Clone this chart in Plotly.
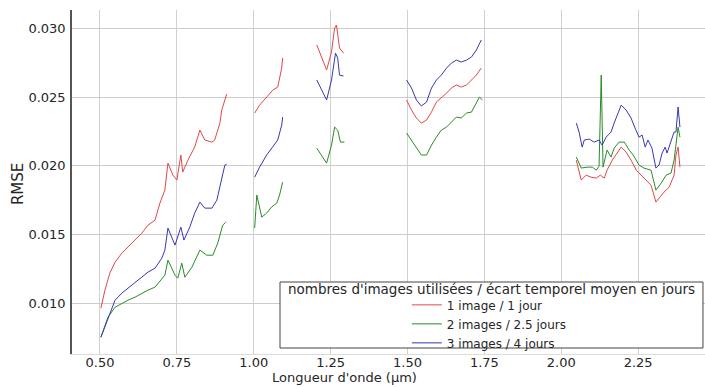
import plotly.graph_objects as go

# ---------------- data (wavelength in µm, RMSE) ----------------
red_x = [0.503, 0.516, 0.532, 0.549, 0.571, 0.591, 0.614, 0.636, 0.656, 0.679, 0.695, 0.711, 0.721, 0.737,
         0.750, 0.763, 0.769, 0.786, 0.808, 0.825, 0.841, 0.864, 0.873, 0.890, 0.896, 0.912, None,
         1.003, 1.019, 1.042, 1.062, 1.078, 1.091, 1.094, None,
         1.205, 1.221, 1.237, 1.253, 1.263, 1.269, 1.279, 1.292, None,
         1.497, 1.513, 1.529, 1.545, 1.562, 1.578, 1.594, 1.610, 1.627, 1.643, 1.659, 1.675, 1.692, 1.708,
         1.724, 1.740, None,
         2.049, 2.065, 2.081, 2.097, 2.114, 2.127, 2.140, 2.149, 2.166, 2.182, 2.195, 2.211, 2.227, 2.244,
         2.260, 2.276, 2.292, 2.308, 2.318, 2.334, 2.351, 2.367, 2.373, 2.380, 2.386]
red_y = [0.00966, 0.01097, 0.01220, 0.01300, 0.01366, 0.01410, 0.01461, 0.01511, 0.01569, 0.01606, 0.01730,
         0.01824, 0.02020, 0.01933, 0.01897, 0.02079, 0.01955, 0.02042, 0.02137, 0.02260, 0.02188, 0.02173,
         0.02188, 0.02311, 0.02406, 0.02522, None,
         0.02384, 0.02442, 0.02500, 0.02551, 0.02573, 0.02711, 0.02784, None,
         0.02879, 0.02791, 0.02697, 0.02828, 0.03002, 0.03024, 0.02857, 0.02820, None,
         0.02479, 0.02406, 0.02348, 0.02311, 0.02333, 0.02391, 0.02464, 0.02493, 0.02529, 0.02566, 0.02588,
         0.02573, 0.02588, 0.02624, 0.02660, 0.02711, None,
         0.02042, 0.01897, 0.01933, 0.01918, 0.01911, 0.01933, 0.01911, 0.01969, 0.02042, 0.02100, 0.02137,
         0.02100, 0.02042, 0.01969, 0.01933, 0.01897, 0.01860, 0.01737, 0.01766, 0.01809, 0.01846, 0.01933,
         0.02079, 0.02137, 0.01991]

green_x = [0.503, 0.526, 0.549, 0.571, 0.591, 0.614, 0.636, 0.656, 0.679, 0.701, 0.711, 0.721, 0.744, 0.753,
           0.766, 0.776, 0.799, 0.825, 0.847, 0.867, 0.883, 0.899, 0.909, None,
           1.003, 1.010, 1.026, 1.042, 1.058, 1.075, 1.084, 1.094, None,
           1.205, 1.221, 1.237, 1.253, 1.263, 1.273, 1.282, 1.295, None,
           1.497, 1.513, 1.529, 1.545, 1.562, 1.578, 1.594, 1.610, 1.627, 1.643, 1.659, 1.675, 1.692, 1.708,
           1.724, 1.734, 1.744, None,
           2.049, 2.065, 2.084, 2.101, 2.114, 2.123, 2.130, 2.136, 2.149, 2.162, 2.172, 2.188, 2.205, 2.221,
           2.234, 2.253, 2.269, 2.292, 2.308, 2.325, 2.341, 2.357, 2.367, 2.373, 2.380, 2.386]
green_y = [0.00755, 0.00901, 0.00973, 0.01002, 0.01024, 0.01046, 0.01075, 0.01097, 0.01119, 0.01184, 0.01206,
           0.01315, 0.01206, 0.01184, 0.01293, 0.01191, 0.01264, 0.01388, 0.01351, 0.01351, 0.01439, 0.01569,
           0.01591, None,
           0.01548, 0.01788, 0.01628, 0.01657, 0.01701, 0.01730, 0.01788, 0.01882, None,
           0.02129, 0.02079, 0.02020, 0.02151, 0.02282, 0.02260, 0.02173, 0.02173, None,
           0.02239, 0.02188, 0.02129, 0.02079, 0.02079, 0.02151, 0.02209, 0.02260, 0.02282, 0.02319, 0.02355,
           0.02348, 0.02384, 0.02391, 0.02464, 0.02500, 0.02479, None,
           0.02064, 0.01984, 0.01991, 0.01991, 0.01969, 0.01998, 0.02660, 0.01991, 0.02115, 0.02064, 0.02129,
           0.02173, 0.02173, 0.02115, 0.02079, 0.02006, 0.01984, 0.01969, 0.01824, 0.01875, 0.01933, 0.01948,
           0.02042, 0.02137, 0.02282, 0.02209]

blue_x = [0.503, 0.516, 0.532, 0.549, 0.571, 0.591, 0.614, 0.636, 0.656, 0.679, 0.701, 0.711, 0.721, 0.744,
          0.763, 0.773, 0.792, 0.808, 0.825, 0.841, 0.864, 0.880, 0.896, 0.906, 0.912, None,
          1.003, 1.019, 1.042, 1.062, 1.078, 1.091, 1.094, None,
          1.205, 1.221, 1.237, 1.253, 1.266, 1.273, 1.279, 1.292, None,
          1.497, 1.513, 1.529, 1.545, 1.562, 1.578, 1.594, 1.610, 1.627, 1.643, 1.659, 1.675, 1.692, 1.708,
          1.724, 1.740, None,
          2.049, 2.058, 2.068, 2.075, 2.091, 2.107, 2.123, 2.133, 2.146, 2.162, 2.172, 2.182, 2.195, 2.211,
          2.227, 2.240, 2.253, 2.263, 2.273, 2.282, 2.295, 2.308, 2.318, 2.328, 2.338, 2.344, 2.357, 2.367,
          2.373, 2.380, 2.386]
blue_y = [0.00755, 0.00828, 0.00930, 0.01024, 0.01075, 0.01111, 0.01148, 0.01191, 0.01228, 0.01257, 0.01329,
          0.01388, 0.01548, 0.01424, 0.01555, 0.01461, 0.01555, 0.01657, 0.01737, 0.01693, 0.01693, 0.01751,
          0.01918, 0.02006, 0.02013, None,
          0.01918, 0.01991, 0.02079, 0.02137, 0.02188, 0.02297, 0.02355, None,
          0.02624, 0.02551, 0.02479, 0.02624, 0.02820, 0.02784, 0.02660, 0.02653, None,
          0.02624, 0.02566, 0.02479, 0.02435, 0.02464, 0.02566, 0.02624, 0.02660, 0.02711, 0.02748, 0.02769,
          0.02755, 0.02769, 0.02791, 0.02842, 0.02915, None,
          0.02311, 0.02246, 0.02137, 0.02188, 0.02195, 0.02173, 0.02188, 0.02151, 0.02209, 0.02246, 0.02311,
          0.02369, 0.02442, 0.02406, 0.02348, 0.02275, 0.02209, 0.02224, 0.02137, 0.02188, 0.02129, 0.01984,
          0.02006, 0.02093, 0.02137, 0.02093, 0.02173, 0.02246, 0.02246, 0.02428, 0.02282]

series_names = ["1 image / 1 jour", "2 images / 2.5 jours", "3 images / 4 jours"]
series_colors = ["#e0484b", "#2a8a2a", "#3838b4"]

y_ticks = [0.010, 0.015, 0.020, 0.025, 0.030]
x_ticks = [0.50, 0.75, 1.00, 1.25, 1.50, 1.75, 2.00, 2.25]

legend_title = "nombres d'images utilisées / écart temporel moyen en jours"
x_title = "Longueur d'onde (µm)"
y_title = "RMSE"

FONT = "DejaVu Sans"

fig = go.Figure()
for xs, ys, name, col in zip([red_x, green_x, blue_x], [red_y, green_y, blue_y], series_names, series_colors):
    fig.add_trace(go.Scatter(x=xs, y=ys, mode="lines", name=name,
                             line=dict(color=col, width=1), connectgaps=False))

fig.update_layout(
    width=705, height=387,
    margin=dict(l=72, r=0, t=10, b=33),
    paper_bgcolor="white", plot_bgcolor="white",
    font=dict(family=FONT, color="#262626", size=13),
    showlegend=True,
    legend=dict(x=0.529, y=0.185, xanchor="left", yanchor="top",
                bgcolor="rgba(0,0,0,0)", borderwidth=0,
                font=dict(family=FONT, size=12, color="#262626"),
                tracegroupgap=0),
    xaxis=dict(range=[0.409, 2.4675], tickvals=x_ticks, ticktext=[f"{v:.2f}" for v in x_ticks],
               showgrid=True, gridcolor="#d0d0d0", gridwidth=1,
               showline=True, linecolor="#dcdcdc", linewidth=1,
               ticks="", ticklabelstandoff=-4, zeroline=False, tickfont=dict(size=13)),
    yaxis=dict(range=[0.00633, 0.03133], tickvals=y_ticks, ticktext=[f"{v:.3f}" for v in y_ticks],
               showgrid=True, gridcolor="#cccccc", gridwidth=1,
               showline=True, linecolor="#555555", linewidth=1.5,
               ticks="", ticklabelstandoff=2, zeroline=False, tickfont=dict(size=13)),
)

# legend frame (white box with border) and centered legend title
fig.add_shape(type="rect", xref="paper", yref="paper", x0=0.3286, x1=0.9968, y0=0.0174, y1=0.2093,
              line=dict(color="#444444", width=1), fillcolor="white", layer="above")
fig.add_annotation(text=legend_title, xref="paper", yref="paper", x=0.6627, y=0.189,
                   xanchor="center", yanchor="middle", showarrow=False,
                   font=dict(family=FONT, size=13.5, color="#262626"))

# axis titles
fig.add_annotation(text=x_title, xref="paper", yref="paper", x=0.43, y=-0.0959,
                   xanchor="center", yanchor="bottom", showarrow=False,
                   font=dict(family=FONT, size=13, color="#262626"))
fig.add_annotation(text=y_title, xref="paper", yref="paper", x=-0.0853, y=0.494,
                   xanchor="center", yanchor="middle", textangle=-90, showarrow=False,
                   font=dict(family=FONT, size=15, color="#262626"))

fig.write_html("out.html")
